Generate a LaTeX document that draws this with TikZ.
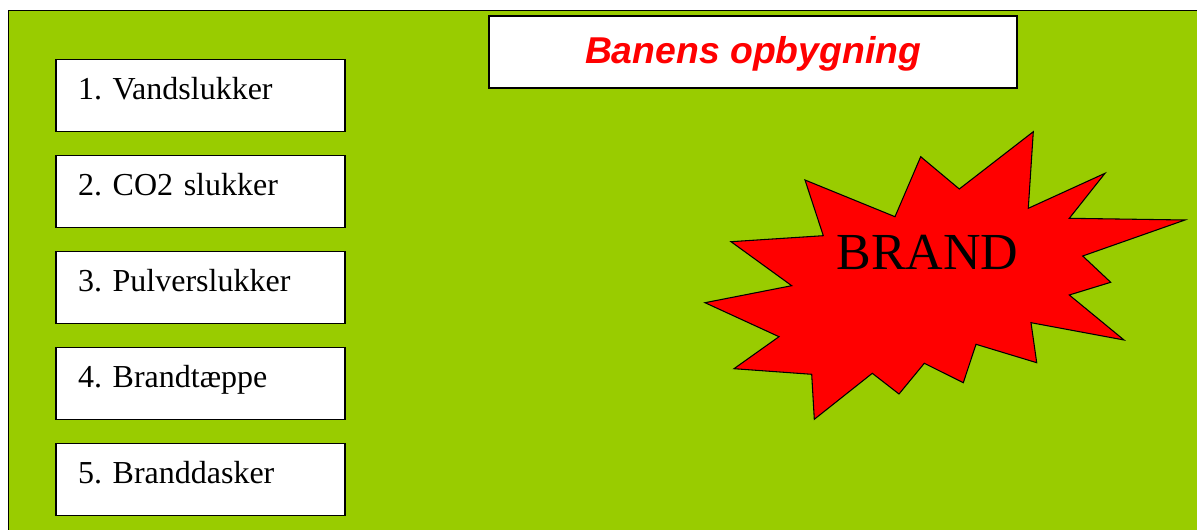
\documentclass[tikz,border=0pt]{standalone}
\usepackage{fontspec}
\setmainfont{Liberation Serif}
\newfontfamily\titlefont{Liberation Sans}
\usepackage{xcolor}
\usepackage{tikz}
\usetikzlibrary{positioning}
\definecolor{banegreen}{RGB}{153,204,0}
\definecolor{brandred}{RGB}{255,0,0}
\frenchspacing

\tikzset{
  slukker/.style={draw=black,fill=white,line width=1.1pt,outer sep=0pt,inner xsep=16.5pt,inner ysep=0pt,
                  text width=183.75pt,align=left,text height=30.5pt,text depth=23.5pt,
                  font=\fontsize{24}{28}\selectfont},
  titelbox/.style={draw=black,fill=white,line width=1.1pt,inner sep=0pt,minimum width=396pt,
                   text height=35.5pt,text depth=18.5pt,text=brandred,
                   font=\titlefont\bfseries\itshape\fontsize{28}{32}\selectfont}
}

\begin{document}
\begin{tikzpicture}[x=0.75pt,y=-0.75pt,node distance=18pt]
    \useasboundingbox (0,0) rectangle (1197,530);
    \clip (0,0) rectangle (1197,530);
    % baggrund
    \draw[fill=banegreen,line width=0.75pt] (8,11) rectangle (1215,545);

    \node[titelbox] (titel) at (753,52) {Banens opbygning};

    % slukkemidler
    \node[slukker,anchor=north west] (v1) at (56,59.3) {1. Vandslukker};
    \node[slukker,below=of v1] (v2) {2. CO2 slukker};
    \node[slukker,below=of v2] (v3) {3. Pulverslukker};
    \node[slukker,below=of v3] (v4) {4. Brandtæppe};
    \node[slukker,below=of v4] (v5) {5. Branddasker};

    % branden
    \draw[fill=brandred,line width=0.8pt,line join=miter]
        (1033.3,131.7) -- (1028.3,208.3) -- (1105,173.3) -- (1069.3,218.3)
        -- (1185,220) -- (1082.7,256) -- (1110.7,282.3) -- (1069.3,295)
        -- (1124,340) -- (1031,322.7) -- (1036.7,362.7) -- (976,344.3)
        -- (963.3,382.7) -- (924.3,363.3) -- (899,394) -- (872.3,373.3)
        -- (814.3,419.3) -- (811.7,374.3) -- (734,368.7) -- (779,336.7)
        -- (705,302.7) -- (791.7,285.7) -- (731,241.7) -- (823.3,235.7)
        -- (805,180) -- (895,216.7) -- (920.7,156.7) -- (959.3,189) -- cycle;
    \node[anchor=base,font=\fontsize{39}{44}\selectfont] (brand) at (927.5,270) {BRAND};
\end{tikzpicture}
\end{document}
